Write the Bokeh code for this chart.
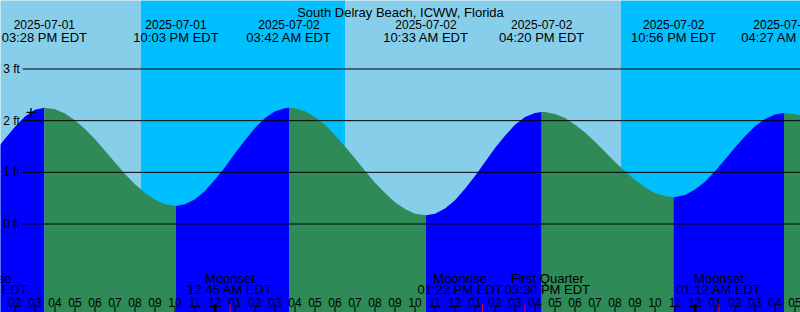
from bokeh.plotting import figure
from bokeh.models import Range1d
from bokeh.core.properties import value
from bokeh.embed import file_html
from bokeh.resources import INLINE

# ---------------- data (hours since 2025-07-01 00:00 EDT, heights in ft) ----------------
title = "South Delray Beach, ICWW, Florida"

curve_t = [13.25, 13.5, 14.0, 14.5, 15.0, 15.467, 16.0, 16.5, 17.0, 17.5, 18.0, 18.5, 19.0,
           19.5, 20.0, 20.5, 21.0, 21.5, 22.05, 22.5, 23.0, 23.5, 24.0, 24.5, 25.0, 25.5,
           26.0, 26.5, 27.0, 27.5, 27.70, 28.0, 28.5, 29.0, 29.5, 30.0, 30.5, 31.0, 31.5,
           32.0, 32.5, 33.0, 33.5, 34.0, 34.55, 35.0, 35.5, 36.0, 36.5, 37.0, 37.5, 38.0,
           38.5, 39.0, 39.5, 40.0, 40.333, 40.5, 41.0, 41.5, 42.0, 42.5, 43.0, 43.5, 44.0,
           44.5, 45.0, 45.5, 46.0, 46.5, 46.933, 47.5, 48.0, 48.5, 49.0, 49.5, 50.0, 50.5,
           51.0, 51.5, 52.0, 52.45, 53.0, 53.35]
curve_h = [1.53, 1.65, 1.88, 2.08, 2.21, 2.25, 2.22, 2.14, 2.01, 1.84, 1.64, 1.42, 1.19,
           0.97, 0.77, 0.60, 0.47, 0.38, 0.35, 0.38, 0.48, 0.64, 0.86, 1.10, 1.37, 1.62,
           1.86, 2.05, 2.18, 2.24, 2.25, 2.24, 2.18, 2.07, 1.92, 1.72, 1.50, 1.27, 1.03,
           0.80, 0.60, 0.42, 0.29, 0.20, 0.17, 0.20, 0.30, 0.46, 0.68, 0.93, 1.20, 1.47,
           1.71, 1.92, 2.07, 2.15, 2.17, 2.17, 2.13, 2.05, 1.92, 1.77, 1.59, 1.40, 1.20,
           1.02, 0.85, 0.71, 0.60, 0.54, 0.52, 0.56, 0.67, 0.82, 1.02, 1.25, 1.48, 1.70,
           1.89, 2.03, 2.12, 2.15, 2.13, 2.09]

ext_t = [15.467, 22.05, 27.70, 34.55, 40.333, 46.933, 52.45]
ext_h = [2.25, 0.35, 2.25, 0.17, 2.17, 0.52, 2.15]
ext_date = ["2025-07-01", "2025-07-01", "2025-07-02", "2025-07-02", "2025-07-02",
            "2025-07-02", "2025-07-03"]
ext_clock = ["03:28 PM EDT", "10:03 PM EDT", "03:42 AM EDT", "10:33 AM EDT",
             "04:20 PM EDT", "10:56 PM EDT", "04:27 AM EDT"]

night_start = [20.3, 44.3]
night_end = [30.5, 54.5]

moon_t = [12.5, 24.75, 37.367, 39.5, 49.2]
moon_name = ["Moonrise", "Moonset", "Moonrise", "First Quarter", "Moonset"]
moon_clock = ["12:30 PM EDT", "12:45 AM EDT", "01:22 PM EDT", "03:30 PM EDT", "01:12 AM EDT"]

hour_ticks = list(range(14, 54))
hour_labels = ["%02d" % ((h % 12) or 12) for h in hour_ticks]
midnights = [24, 48]

level_ticks = [0, 1, 2, 3]
level_labels = ["0 ft", "1 ft", "2 ft", "3 ft"]

now_t = 14.8
now_h = 2.16

# ---------------- layout ----------------
W, H = 800, 312
PXH = 20.0              # px per hour
X0 = 14 - 14.5 / PXH
X1 = X0 + W / PXH
PXFT = 51.67
Y0PX = 223.5
YTOP = Y0PX / PXFT
YBOT = -(H - Y0PX) / PXFT

def py(px):
    return YTOP - px / PXFT

def px_t(px):
    return X0 + px / PXH

moon_shift = [0.0, 0.0, -1.115, 1.12, 0.0]

DAY = "#87CEEB"
NIGHT = "#00BFFF"
RISE = "#0000FF"
FALL = "#2E8B57"
FONT = value("Liberation Sans")

p = figure(width=W, height=H, x_range=Range1d(X0, X1), y_range=Range1d(YBOT, YTOP),
           x_axis_type=None, y_axis_type=None, toolbar_location=None,
           output_backend="svg", min_border=0)
p.outline_line_color = None
p.background_fill_color = DAY
p.border_fill_color = DAY
p.grid.visible = False

# night bands
p.quad(left=night_start, right=night_end, bottom=YBOT, top=YTOP,
       fill_color=NIGHT, line_color=None)

# tide fill, split at extrema
bounds = [curve_t[0]] + ext_t + [curve_t[-1]]
for i in range(len(bounds) - 1):
    a, b = bounds[i], bounds[i + 1]
    xs = [t for t in curve_t if a - 1e-9 <= t <= b + 1e-9]
    ys = [h for t, h in zip(curve_t, curve_h) if a - 1e-9 <= t <= b + 1e-9]
    rising = ys[-1] > ys[0]
    p.varea(x=xs, y1=[YBOT] * len(xs), y2=ys, fill_color=RISE if rising else FALL)

# level lines and labels
p.segment(x0=[px_t(22)] * len(level_ticks), y0=level_ticks,
          x1=[X1] * len(level_ticks), y1=level_ticks, line_color="black", line_width=1)
p.text(x=[px_t(2.7)] * len(level_ticks), y=level_ticks, text=level_labels,
       text_font=FONT, text_font_size="12px", text_align="left",
       text_baseline="middle", text_color="black")

# title
p.text(x=[px_t(400)], y=[py(11.5)], text=[title], text_font=FONT,
       text_font_size="13px", text_align="center", text_baseline="alphabetic")

# extrema labels
p.text(x=ext_t, y=[py(24)] * len(ext_t), text=ext_date, text_font=FONT,
       text_font_size="12px", text_align="center", text_baseline="alphabetic")
p.text(x=ext_t, y=[py(36.7)] * len(ext_t), text=ext_clock, text_font=FONT,
       text_font_size="13px", text_align="center", text_baseline="alphabetic")

# moon events
mx = [t + s for t, s in zip(moon_t, moon_shift)]
p.text(x=mx, y=[py(278.3)] * len(mx), text=moon_name, text_font=FONT,
       text_font_size="13px", text_align="center", text_baseline="alphabetic")
p.text(x=mx, y=[py(289)] * len(mx), text=moon_clock, text_font=FONT,
       text_font_size="13px", text_align="center", text_baseline="alphabetic")

# hour labels and ticks
p.text(x=hour_ticks, y=[py(301.7)] * len(hour_ticks), text=hour_labels, text_font=FONT,
       text_font_size="12px", text_align="center", text_baseline="alphabetic")
reg = [h for h in hour_ticks if h not in midnights]
p.segment(x0=reg, y0=[py(305)] * len(reg), x1=reg, y1=[py(312)] * len(reg),
          line_color="black", line_width=1)
p.segment(x0=midnights, y0=[py(304)] * len(midnights), x1=midnights,
          y1=[py(312)] * len(midnights), line_color="black", line_width=3)
p.segment(x0=moon_t, y0=[py(304)] * len(moon_t), x1=moon_t, y1=[py(312)] * len(moon_t),
          line_color="red", line_width=1)

# current time marker
p.scatter(x=[now_t], y=[now_h], marker="cross", size=9, line_color="black", line_width=1.3)

open("out.html", "w").write(file_html(p, INLINE))
